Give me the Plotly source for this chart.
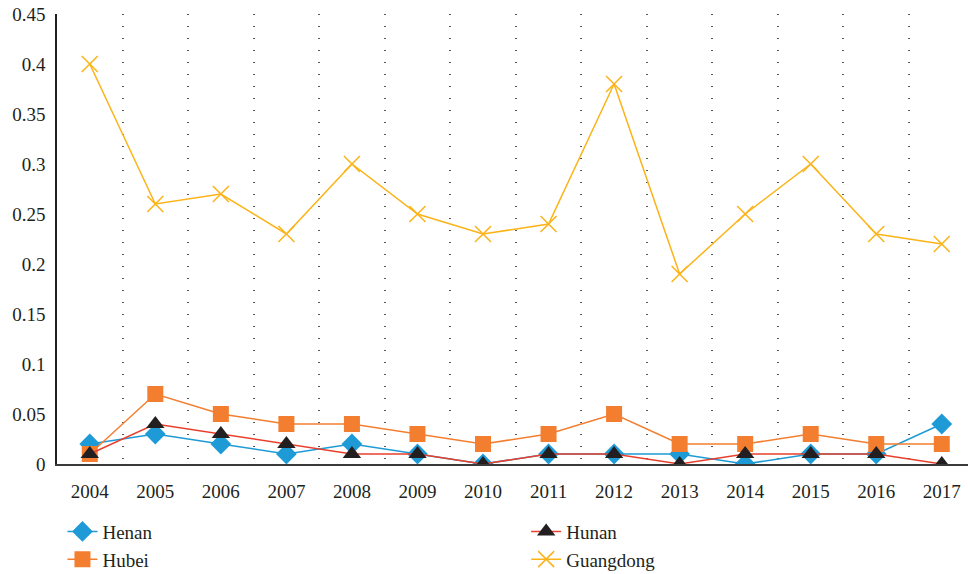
import plotly.graph_objects as go

years = ["2004", "2005", "2006", "2007", "2008", "2009", "2010",
         "2011", "2012", "2013", "2014", "2015", "2016", "2017"]
henan = [0.02, 0.03, 0.02, 0.01, 0.02, 0.01, 0.0, 0.01, 0.01, 0.01, 0.0, 0.01, 0.01, 0.04]
hubei = [0.01, 0.07, 0.05, 0.04, 0.04, 0.03, 0.02, 0.03, 0.05, 0.02, 0.02, 0.03, 0.02, 0.02]
hunan = [0.01, 0.04, 0.03, 0.02, 0.01, 0.01, 0.0, 0.01, 0.01, 0.0, 0.01, 0.01, 0.01, 0.0]
guangdong = [0.40, 0.26, 0.27, 0.23, 0.30, 0.25, 0.23, 0.24, 0.38, 0.19, 0.25, 0.30, 0.23, 0.22]
y_ticks = [0, 0.05, 0.1, 0.15, 0.2, 0.25, 0.3, 0.35, 0.4, 0.45]
y_ticktext = ["0", "0.05", "0.1", "0.15", "0.2", "0.25", "0.3", "0.35", "0.4", "0.45"]

FONT = "Liberation Serif"

fig = go.Figure()
fig.add_trace(go.Scatter(
    x=years, y=henan, name="Henan", mode="lines+markers", legend="legend", legendrank=1,
    line=dict(color="#1e9ad6", width=1.5),
    marker=dict(symbol="diamond", size=16, color="#1e9ad6")))
fig.add_trace(go.Scatter(
    x=years, y=hubei, name="Hubei", mode="lines+markers", legend="legend", legendrank=2,
    line=dict(color="#f47e2f", width=1.5),
    marker=dict(symbol="square", size=16, color="#f47e2f")))
fig.add_trace(go.Scatter(
    x=years, y=hunan, name="Hunan", mode="lines+markers", legend="legend2", legendrank=1,
    line=dict(color="#e8402c", width=1.5),
    marker=dict(symbol="triangle-up", size=16, color="#231f20")))
fig.add_trace(go.Scatter(
    x=years, y=guangdong, name="Guangdong", mode="lines+markers", legend="legend2", legendrank=2,
    line=dict(color="#fbb317", width=1.5),
    marker=dict(symbol="x-thin", size=16, color="#fbb317",
                line=dict(color="#fbb317", width=1.5))))

legend_common = dict(orientation="v", xanchor="left", y=-0.108, yanchor="top",
                     font=dict(family=FONT, size=19, color="#231f20"),
                     tracegroupgap=0, itemwidth=30, bgcolor="rgba(0,0,0,0)")

fig.update_layout(
    width=968, height=574,
    margin=dict(l=57, r=0, t=14, b=110, autoexpand=False),
    paper_bgcolor="white", plot_bgcolor="white",
    font=dict(family=FONT, size=19, color="#231f20"),
    showlegend=True,
    legend=dict(x=0.006, **legend_common),
    legend2=dict(x=0.515, **legend_common),
)
fig.update_xaxes(
    type="category", range=[-0.5, 13.4],
    tickson="boundaries", ticks="", showgrid=True,
    griddash="1px,11px", gridcolor="#555555", gridwidth=1.5,
    showline=True, linecolor="#3a3a3a", linewidth=2,
    zeroline=False, fixedrange=True,
    tickfont=dict(family=FONT, size=19),
    ticklabelstandoff=9,
)
fig.update_yaxes(
    range=[0, 0.45], tickvals=y_ticks, ticktext=y_ticktext,
    showgrid=False, zeroline=False, ticks="",
    showline=True, linecolor="#231f20", linewidth=1.5,
    ticklabelstandoff=6, fixedrange=True,
    tickfont=dict(family=FONT, size=19),
)
fig.write_html("out.html", config={"displayModeBar": False},
               post_script="document.body.style.margin='0';document.body.style.padding='0';")
